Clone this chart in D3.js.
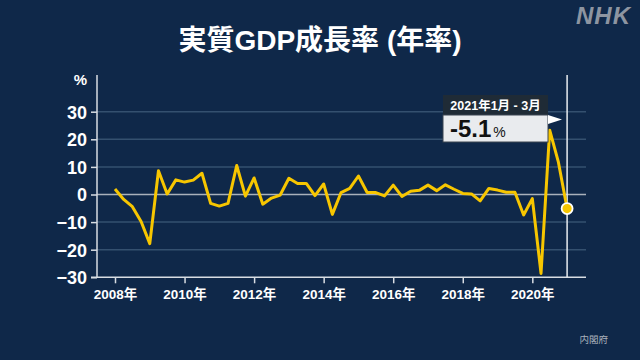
<!DOCTYPE html>
<html><head><meta charset="utf-8">
<script src="https://cdn.jsdelivr.net/npm/d3@7"></script>
<style>
html,body{margin:0;padding:0;background:#0f2849;}
svg{display:block;}
text{font-family:"Liberation Sans","Noto Sans CJK JP",sans-serif;}
</style></head>
<body>
<svg id="c" width="640" height="360"></svg>
<script>
// Quarterly real GDP growth (annualized, %), 2008 Q1 - 2021 Q1
const startYear = 2008;
const values = [
  2.0, -1.8, -4.4, -9.8,
  -17.8, 8.6, 0.2, 5.3,
  4.5, 5.2, 7.7, -3.2,
  -4.2, -3.2, 10.5, -0.6,
  6.0, -3.5, -1.3, -0.2,
  5.9, 4.0, 4.0, -0.4,
  3.8, -7.2, 0.7, 2.2,
  6.7, 0.7, 0.7, -0.5,
  3.4, -0.7, 1.2, 1.5,
  3.4, 1.4, 3.5, 1.9,
  0.4, 0.2, -2.3, 2.2,
  1.6, 0.8, 0.8, -7.4,
  -1.5, -28.6, 23.3, 11.7,
  -5.1
];
const yTicks = [-30, -20, -10, 0, 10, 20, 30];
const xTickYears = [2008, 2010, 2012, 2014, 2016, 2018, 2020];
const title = "実質GDP成長率 (年率)";
const calloutPeriod = "2021年1月 - 3月";
const calloutValue = "-5.1";
const source = "内閣府";

const svg = d3.select("#c");
const W = 640, H = 360;
svg.append("rect").attr("width", W).attr("height", H).attr("fill", "#0f2849");

const x = d3.scaleLinear().domain([0, 52]).range([115, 567.1]);
const y = d3.scaleLinear().domain([-30, 30]).range([277.3, 111.7]);
const xLeft = 97, xRight = 586, yTop = 75;

// Title
svg.append("text").attr("x", 320).attr("y", 50).attr("text-anchor", "middle")
  .attr("fill", "#fff").attr("font-size", 28).attr("font-weight", "bold")
  .attr("font-family", "'Noto Sans CJK JP', sans-serif").text(title);

// NHK logo
svg.append("text").attr("x", 631).attr("y", 24).attr("text-anchor", "end")
  .attr("fill", "#8d95a1").attr("font-size", 24).attr("font-weight", "bold")
  .attr("font-style", "italic").attr("letter-spacing", 1).text("NHK");

// Gridlines
const g = svg.append("g");
g.selectAll("line.grid").data(yTicks.filter(d => d !== 0 && d !== -30)).join("line")
  .attr("x1", xLeft).attr("x2", xRight)
  .attr("y1", d => y(d)).attr("y2", d => y(d))
  .attr("stroke", "#34506f").attr("stroke-width", 1.5);
g.append("line").attr("x1", xLeft).attr("x2", xRight)
  .attr("y1", y(0)).attr("y2", y(0)).attr("stroke", "#a9b1bb").attr("stroke-width", 1.5);

// Y axis
const yAxis = d3.axisLeft(y).tickValues(yTicks).tickSize(6).tickPadding(4).tickFormat(d3.format("d"));
const ya = svg.append("g").attr("transform", `translate(${xLeft},0)`).call(yAxis);
ya.select(".domain").remove();
ya.selectAll(".tick line").attr("stroke", "#d8dde3").attr("stroke-width", 1.5);
ya.selectAll(".tick text").attr("fill", "#fff").attr("font-size", 18).attr("font-weight", "bold")
  .attr("font-family", "'Liberation Sans', sans-serif").attr("dy", "0.36em");
svg.append("line").attr("x1", xLeft).attr("x2", xLeft).attr("y1", yTop).attr("y2", y(-30))
  .attr("stroke", "#d8dde3").attr("stroke-width", 1.5);
svg.append("text").attr("x", 87).attr("y", 85).attr("text-anchor", "end")
  .attr("fill", "#fff").attr("font-size", 15).attr("font-weight", "bold").text("%");

// X axis
const xAxis = d3.axisBottom(x).tickValues(xTickYears.map(yr => (yr - startYear) * 4))
  .tickSize(6).tickPadding(6).tickFormat(d => (startYear + d / 4) + "年");
const xa = svg.append("g").attr("transform", `translate(0,${y(-30)})`).call(xAxis);
xa.select(".domain").remove();
xa.selectAll(".tick line").attr("stroke", "#d8dde3").attr("stroke-width", 1.5);
xa.selectAll(".tick text").attr("fill", "#fff").attr("font-size", 13.5).attr("font-weight", "bold");
svg.append("line").attr("x1", xLeft - 6).attr("x2", xRight).attr("y1", y(-30)).attr("y2", y(-30))
  .attr("stroke", "#d8dde3").attr("stroke-width", 1.5);

// Vertical marker line at latest quarter
const lastI = values.length - 1;
svg.append("line").attr("x1", x(lastI)).attr("x2", x(lastI)).attr("y1", yTop).attr("y2", y(-30))
  .attr("stroke", "#e8ecf0").attr("stroke-width", 1.5);

// Data line
const line = d3.line().x((d, i) => x(i)).y(d => y(d));
svg.append("path").datum(values).attr("d", line).attr("fill", "none")
  .attr("stroke", "#f7c600").attr("stroke-width", 3).attr("stroke-linejoin", "round");

// End point
svg.append("circle").attr("cx", x(lastI)).attr("cy", y(values[lastI])).attr("r", 5.5)
  .attr("fill", "#f7c600").attr("stroke", "#fff").attr("stroke-width", 1.8);

// Callout
const bx = 443, bw = 105, by = 95;
svg.append("rect").attr("x", bx).attr("y", by).attr("width", bw).attr("height", 20).attr("fill", "#1f2b36");
svg.append("text").attr("x", bx + bw / 2).attr("y", by + 15).attr("text-anchor", "middle")
  .attr("fill", "#fff").attr("font-size", 12.5).attr("font-weight", "bold").text(calloutPeriod);
svg.append("rect").attr("x", bx).attr("y", by + 20).attr("width", bw).attr("height", 27)
  .attr("fill", "#e9ebee").attr("stroke", "#3a4450").attr("stroke-width", 1);
const vt = svg.append("text").attr("x", bx + 7).attr("y", by + 42).attr("fill", "#111");
vt.append("tspan").attr("font-size", 24).attr("font-weight", "bold").text(calloutValue);
vt.append("tspan").attr("font-size", 14).attr("dx", 2).text("%");
svg.append("path").attr("d", `M${bx + bw},${by + 20} L${bx + bw + 14},${by + 24.5} L${bx + bw},${by + 29} Z`)
  .attr("fill", "#fff");

// Source
svg.append("text").attr("x", 608).attr("y", 343).attr("text-anchor", "end")
  .attr("fill", "#a9b1bb").attr("font-size", 9.5)
  .attr("font-family", "'Noto Sans CJK JP', sans-serif").text(source);
</script>
</body></html>
